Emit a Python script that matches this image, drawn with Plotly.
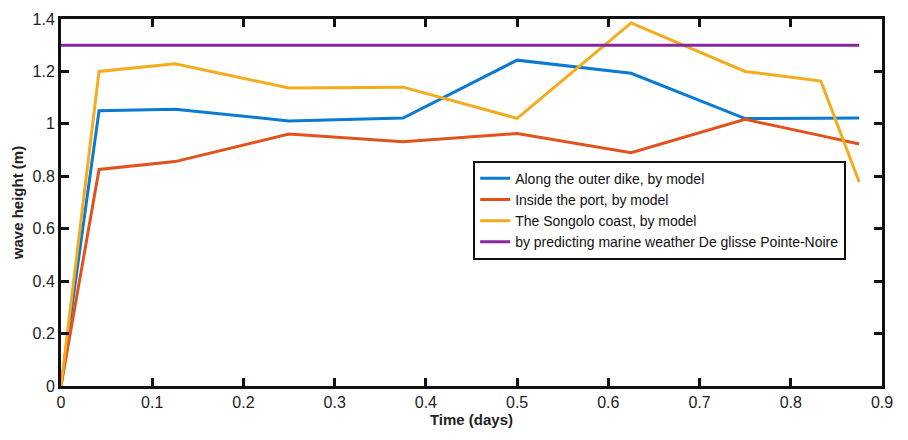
import plotly.graph_objects as go

# Time axis (days) and wave heights (m) per location
time_days = [0, 0.0417, 0.125, 0.25, 0.375, 0.5, 0.625, 0.75, 0.833, 0.875]
outer_dike = [0, 1.05, 1.056, 1.011, 1.022, 1.243, 1.193, 1.02, 1.021, 1.022]
inside_port = [0, 0.826, 0.856, 0.961, 0.932, 0.963, 0.89, 1.017, 0.955, 0.923]
songolo_coast = [0, 1.2, 1.229, 1.137, 1.14, 1.021, 1.385, 1.2, 1.163, 0.778]
forecast_time = [0, 0.875]
forecast_height = [1.3, 1.3]

series_names = [
    "Along the outer dike, by model",
    "Inside the port, by model",
    "The Songolo coast, by model",
    "by predicting marine weather De glisse Pointe-Noire",
]
colors = ["#0a7ad2", "#e2521b", "#f4ac1c", "#8a25a0"]

FONT = "Liberation Sans Narrow, Arial Narrow, Liberation Sans, Arial, sans-serif"

fig = go.Figure()
for name, y, c in zip(series_names[:3], [outer_dike, inside_port, songolo_coast], colors[:3]):
    fig.add_trace(go.Scatter(x=time_days, y=y, mode="lines", name=name,
                             line=dict(color=c, width=3)))
fig.add_trace(go.Scatter(x=forecast_time, y=forecast_height, mode="lines",
                         name=series_names[3], line=dict(color=colors[3], width=3)))

axis_style = dict(
    showline=True, linecolor="#111", linewidth=3, mirror="ticks",
    ticks="inside", ticklen=8, tickwidth=2.5, tickcolor="#111",
    showgrid=False, zeroline=False,
    tickfont=dict(family=FONT, size=16, color="#222"),
)

fig.update_layout(
    width=908, height=440,
    margin=dict(l=61, r=26, t=19, b=54),
    paper_bgcolor="white", plot_bgcolor="white",
    font=dict(family=FONT, color="#222"),
    xaxis=dict(range=[0, 0.9], dtick=0.1, tick0=0,
               title=dict(text="Time (days)", standoff=4,
                          font=dict(family=FONT, size=15, weight="bold", color="#222")),
               **axis_style),
    yaxis=dict(range=[0, 1.4], dtick=0.2, tick0=0,
               title=dict(text="wave height (m)", standoff=6,
                          font=dict(family=FONT, size=15, weight="bold", color="#222")),
               **axis_style),
    legend=dict(x=0.502, y=0.614, xanchor="left", yanchor="top",
                bgcolor="white", bordercolor="#111", borderwidth=2,
                font=dict(family=FONT, size=14, color="#111"),
                itemwidth=30, tracegroupgap=0),
    showlegend=True,
)

fig.write_html("out.html")
